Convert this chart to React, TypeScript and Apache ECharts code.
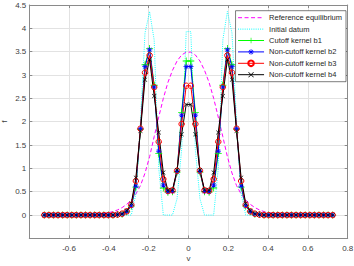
import React, { useEffect, useRef } from 'react';
import * as echarts from 'echarts';

// grid of velocities (cell centres)
const V = [
  -0.7245, -0.7015, -0.6785, -0.6555, -0.6325, -0.6095, -0.5865, -0.5635,
  -0.5405, -0.5175, -0.4945, -0.4715, -0.4485, -0.4255, -0.4025, -0.3795,
  -0.3565, -0.3335, -0.3105, -0.2875, -0.2645, -0.2415, -0.2185, -0.1955,
  -0.1725, -0.1495, -0.1265, -0.1035, -0.0805, -0.0575, -0.0345, -0.0115,
  0.0115, 0.0345, 0.0575, 0.0805, 0.1035, 0.1265, 0.1495, 0.1725,
  0.1955, 0.2185, 0.2415, 0.2645, 0.2875, 0.3105, 0.3335, 0.3565,
  0.3795, 0.4025, 0.4255, 0.4485, 0.4715, 0.4945, 0.5175, 0.5405,
  0.5635, 0.5865, 0.6095, 0.6325, 0.6555, 0.6785, 0.7015, 0.7245,
];

const REF = [
  0, 0, 0, 0, 0, 0, 0, 0.001, 0.002, 0.004, 0.007, 0.012, 0.02, 0.03, 0.05, 0.075,
  0.11, 0.16, 0.23, 0.32, 0.45, 0.63, 0.9, 1.25, 1.68, 2.1, 2.5, 2.84, 3.1, 3.3, 3.43, 3.49,
  3.49, 3.43, 3.3, 3.1, 2.84, 2.5, 2.1, 1.68, 1.25, 0.9, 0.63, 0.45, 0.32, 0.23, 0.16, 0.11,
  0.075, 0.05, 0.03, 0.02, 0.012, 0.007, 0.004, 0.002, 0.001, 0, 0, 0, 0, 0, 0, 0,
];

const INIT = [
  0, 0, 0, 0, 0, 0, 0, 0, 0, 0, 0, 0, 0, 0, 0, 0,
  0, 0, 0, 0, 0.45, 2.0, 3.9, 4.36, 3.75, 1.0, 0, 0, 0, 0.35, 1.4, 3.93,
  3.93, 1.4, 0.35, 0, 0, 0, 1.0, 3.75, 4.36, 3.9, 2.0, 0.45, 0, 0, 0, 0,
  0, 0, 0, 0, 0, 0, 0, 0, 0, 0, 0, 0, 0, 0, 0, 0,
];

const B1 = [
  0, 0, 0, 0, 0, 0, 0, 0, 0, 0, 0, 0, 0, 0, 0, 0,
  0.01, 0.02, 0.07, 0.19, 0.6, 1.84, 3.22, 3.57, 2.78, 1.32, 0.58, 0.49, 0.5, 0.92, 2.2, 3.3,
  3.3, 2.2, 0.92, 0.5, 0.49, 0.58, 1.32, 2.78, 3.57, 3.22, 1.84, 0.6, 0.19, 0.07, 0.02, 0.01,
  0, 0, 0, 0, 0, 0, 0, 0, 0, 0, 0, 0, 0, 0, 0, 0,
];

const B2 = [
  0, 0, 0, 0, 0, 0, 0, 0, 0, 0, 0, 0, 0, 0, 0, 0,
  0.01, 0.02, 0.07, 0.2, 0.62, 1.85, 3.18, 3.54, 2.74, 1.37, 0.64, 0.5, 0.51, 0.93, 2.14, 3.18,
  3.18, 2.14, 0.93, 0.51, 0.5, 0.64, 1.37, 2.74, 3.54, 3.18, 1.85, 0.62, 0.2, 0.07, 0.02, 0.01,
  0, 0, 0, 0, 0, 0, 0, 0, 0, 0, 0, 0, 0, 0, 0, 0,
];

const B3 = [
  0, 0, 0, 0, 0, 0, 0, 0, 0, 0, 0, 0, 0, 0, 0, 0,
  0.01, 0.03, 0.08, 0.22, 0.73, 1.85, 3.05, 3.42, 2.74, 1.57, 0.77, 0.52, 0.53, 0.95, 1.95, 2.77,
  2.77, 1.95, 0.95, 0.53, 0.52, 0.77, 1.57, 2.74, 3.42, 3.05, 1.85, 0.73, 0.22, 0.08, 0.03, 0.01,
  0, 0, 0, 0, 0, 0, 0, 0, 0, 0, 0, 0, 0, 0, 0, 0,
];

const B4 = [
  0, 0, 0, 0, 0, 0, 0, 0, 0, 0, 0, 0, 0, 0, 0, 0,
  0.01, 0.03, 0.09, 0.25, 0.8, 1.8, 2.9, 3.33, 2.55, 1.77, 0.91, 0.53, 0.54, 0.96, 1.73, 2.37,
  2.37, 1.73, 0.96, 0.54, 0.53, 0.91, 1.77, 2.55, 3.33, 2.9, 1.8, 0.8, 0.25, 0.09, 0.03, 0.01,
  0, 0, 0, 0, 0, 0, 0, 0, 0, 0, 0, 0, 0, 0, 0, 0,
];

const NAMES = [
  'Reference equilibrium',
  'Initial datum',
  'Cutoff kernel b1',
  'Non-cutoff kernel b2',
  'Non-cutoff kernel b3',
  'Non-cutoff kernel b4',
];

const X_MIN = -0.8;
const X_MAX = 0.8;
const X_STEP = 0.2;
const Y_MIN = -0.5;
const Y_MAX = 4.5;
const Y_STEP = 0.5;

const FONT = "'Liberation Sans', Arial, Helvetica, sans-serif";

const PLUS = 'path://M4.4,0H5.6V4.4H10V5.6H5.6V10H4.4V5.6H0V4.4H4.4Z';
const CROSS =
  'path://M0,0.85L0.85,0L5,4.15L9.15,0L10,0.85L5.85,5L10,9.15L9.15,10L5,5.85L0.85,10L0,9.15L4.15,5Z';
const STAR =
  'path://M4.4,0H5.6V4.4H10V5.6H5.6V10H4.4V5.6H0V4.4H4.4Z M1,1.85L1.85,1L5,4.15L8.15,1L9,1.85L5.85,5L9,8.15L8.15,9L5,5.85L1.85,9L1,8.15L4.15,5Z';

const pairs = (ys: number[]) => V.map((v, i) => [v, ys[i]]);

export default function App() {
  const ref = useRef<HTMLDivElement>(null);
  useEffect(() => {
    if (!ref.current) return;
    const chart = echarts.init(ref.current, undefined, { renderer: 'svg' });
    const axisLineColor = '#8a8a8a';
    const labelColor = '#404040';
    const gridColor = '#e2e2e2';
    const baseX = {
      type: 'value',
      min: X_MIN,
      max: X_MAX,
      interval: X_STEP,
    };
    const baseY = {
      type: 'value',
      min: Y_MIN,
      max: Y_MAX,
      interval: Y_STEP,
    };
    const lineSeries = (
      name: string,
      ys: number[],
      color: string,
      symbol: string,
      size: number,
      filled = true
    ) => ({
      name,
      type: 'line',
      data: pairs(ys),
      symbol,
      symbolSize: size,
      showSymbol: true,
      showAllSymbol: true,
      lineStyle: { color, width: 1 },
      itemStyle: filled
        ? { color, borderWidth: 0 }
        : { color: 'rgba(0,0,0,0)', borderColor: color, borderWidth: 1 },
      emphasis: { disabled: true },
      silent: true,
    });
    chart.setOption({
      animation: false,
      backgroundColor: '#ffffff',
      textStyle: { fontFamily: FONT },
      grid: {
        left: 29.3,
        right: 6.3,
        top: 5,
        bottom: 27.6,
        containLabel: false,
        outerBoundsMode: 'none',
      },
      legend: {
        orient: 'vertical',
        right: 8,
        top: 10.7,
        itemWidth: 26,
        itemHeight: 7,
        itemGap: 3.4,
        padding: [3, 4, 3, 2],
        backgroundColor: '#ffffff',
        borderColor: '#262626',
        borderWidth: 0.6,
        selectedMode: false,
        lineStyle: { width: 1 },
        textStyle: { fontSize: 7.5, color: '#262626', fontFamily: FONT },
        data: NAMES,
      },
      xAxis: [
        {
          ...baseX,
          position: 'bottom',
          name: 'v',
          nameLocation: 'middle',
          nameGap: 16,
          nameMoveOverlap: false,
          nameTextStyle: { fontSize: 8, color: labelColor, fontFamily: FONT },
          axisLine: { show: true, onZero: false, lineStyle: { color: axisLineColor, width: 1 } },
          axisTick: { show: true, inside: true, length: 3, lineStyle: { color: axisLineColor } },
          axisLabel: {
            show: true,
            showMinLabel: false,
            fontSize: 8,
            color: labelColor,
            margin: 6,
            fontFamily: FONT,
          },
          splitLine: { show: true, lineStyle: { color: gridColor, width: 1 } },
        },
        {
          ...baseX,
          position: 'top',
          axisLine: { show: true, onZero: false, lineStyle: { color: axisLineColor, width: 1 } },
          axisTick: { show: true, inside: true, length: 3, lineStyle: { color: axisLineColor } },
          axisLabel: { show: false },
          splitLine: { show: false },
        },
      ],
      yAxis: [
        {
          ...baseY,
          position: 'left',
          name: 'f',
          nameLocation: 'middle',
          nameGap: 21,
          nameMoveOverlap: false,
          nameTextStyle: { fontSize: 8, color: labelColor, fontFamily: FONT },
          axisLine: { show: true, onZero: false, lineStyle: { color: axisLineColor, width: 1 } },
          axisTick: { show: true, inside: true, length: 3, lineStyle: { color: axisLineColor } },
          axisLabel: {
            show: true,
            showMinLabel: false,
            fontSize: 8,
            color: labelColor,
            margin: 3,
            fontFamily: FONT,
          },
          splitLine: { show: true, lineStyle: { color: gridColor, width: 1 } },
        },
        {
          ...baseY,
          position: 'right',
          axisLine: { show: true, onZero: false, lineStyle: { color: axisLineColor, width: 1 } },
          axisTick: { show: true, inside: true, length: 3, lineStyle: { color: axisLineColor } },
          axisLabel: { show: false },
          splitLine: { show: false },
        },
      ],
      series: [
        {
          name: NAMES[0],
          type: 'line',
          data: pairs(REF),
          symbol: 'none',
          showSymbol: false,
          lineStyle: { color: '#ff00ff', width: 1, type: [4, 2.5] },
          itemStyle: { color: 'rgba(0,0,0,0)', borderWidth: 0 },
          emphasis: { disabled: true },
          silent: true,
        },
        {
          name: NAMES[1],
          type: 'line',
          data: pairs(INIT),
          symbol: 'none',
          showSymbol: false,
          lineStyle: { color: '#00ffff', width: 0.9, type: [1, 1.2] },
          itemStyle: { color: 'rgba(0,0,0,0)', borderWidth: 0 },
          emphasis: { disabled: true },
          silent: true,
        },
        lineSeries(NAMES[2], B1, '#00ff00', PLUS, 7),
        lineSeries(NAMES[3], B2, '#0000ff', STAR, 5.5),
        lineSeries(NAMES[4], B3, '#ff0000', 'circle', 5.5, false),
        lineSeries(NAMES[5], B4, '#000000', CROSS, 4.5),
      ],
    });
    return () => {
      chart.dispose();
    };
  }, []);
  return (
    <div
      ref={ref}
      style={{ position: 'fixed', left: 0, top: 0, width: 354, height: 266 }}
    />
  );
}
